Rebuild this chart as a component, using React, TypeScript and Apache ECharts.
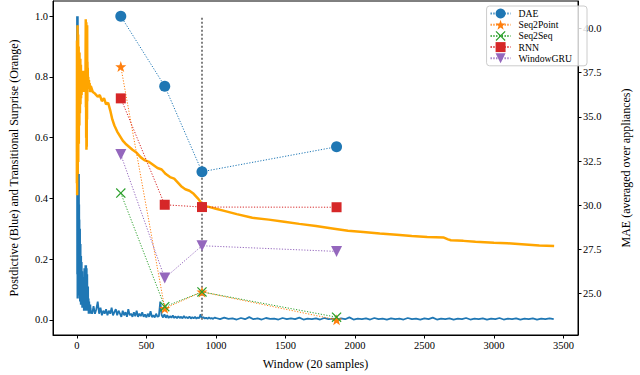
import React, { useEffect, useRef } from "react";
import * as echarts from "echarts";

// ---------- data ----------
const xTicks = [0, 500, 1000, 1500, 2000, 2500, 3000, 3500];
const leftTicks = [0, 0.2, 0.4, 0.6, 0.8, 1.0];
const rightTicks = [25, 27.5, 30, 32.5, 35, 37.5, 40];

const maeWindows = [316, 632, 900, 1868];
const maeDAE = [40.7, 36.74, 31.9, 33.31];
const maeSeq2Point = [37.85, 24.17, 25.1, 23.52];
const maeSeq2Seq = [30.69, 24.26, 25.1, 23.67];
const maeRNN = [36.05, 30.03, 29.9, 29.89];
const maeWindowGRU = [32.87, 25.88, 27.71, 27.39];

const markerWindow = 900;

// postdictive surprise (blue): windows 0..99 step 1
const blueEarly = [
  0.55, 1.0, 0.15, 0.98, 0.07, 0.85, 0.3, 1.0, 0.12, 0.49,
  0.08, 0.47, 0.1, 0.42, 0.09, 0.48, 0.13, 0.38, 0.07, 0.33,
  0.11, 0.29, 0.06, 0.3, 0.09, 0.22, 0.07, 0.25, 0.05, 0.18,
  0.08, 0.21, 0.06, 0.15, 0.05, 0.19, 0.07, 0.12, 0.04, 0.16,
  0.06, 0.11, 0.04, 0.14, 0.05, 0.09, 0.04, 0.13, 0.05, 0.08,
  0.03, 0.12, 0.05, 0.17, 0.04, 0.1, 0.03, 0.08, 0.05, 0.15,
  0.04, 0.18, 0.06, 0.09, 0.03, 0.14, 0.05, 0.18, 0.04, 0.12,
  0.06, 0.17, 0.03, 0.1, 0.05, 0.15, 0.04, 0.08, 0.03, 0.06,
  0.04, 0.11, 0.03, 0.05, 0.02, 0.07, 0.03, 0.05, 0.02, 0.06,
  0.03, 0.04, 0.02, 0.05, 0.03, 0.04, 0.02, 0.05, 0.03, 0.04,
];
// windows 100..990 step 10
const blueMid = [
  0.03, 0.02, 0.045, 0.02, 0.035, 0.06, 0.02, 0.04, 0.015, 0.03,
  0.02, 0.035, 0.015, 0.03, 0.02, 0.04, 0.015, 0.025, 0.035, 0.015,
  0.03, 0.02, 0.01, 0.03, 0.015, 0.025, 0.01, 0.035, 0.015, 0.02,
  0.01, 0.025, 0.012, 0.03, 0.01, 0.02, 0.012, 0.025, 0.01, 0.018,
  0.008, 0.02, 0.01, 0.028, 0.009, 0.015, 0.008, 0.02, 0.01, 0.012,
  0.06, 0.015, 0.008, 0.018, 0.007, 0.015, 0.006, 0.012, 0.007, 0.014,
  0.006, 0.011, 0.005, 0.012, 0.006, 0.01, 0.005, 0.013, 0.006, 0.009,
  0.005, 0.011, 0.004, 0.009, 0.005, 0.01, 0.004, 0.008, 0.005, 0.018,
  0.004, 0.009, 0.004, 0.007, 0.003, 0.008, 0.004, 0.006, 0.003, 0.007,
];
// windows 1000..3430 step 30
const blueLate = [
  0.006, 0.002, 0.007, 0.003, 0.005, 0.001, 0.006, 0.002, 0.009, 0.002,
  0.005, 0.001, 0.006, 0.003, 0.004, 0.001, 0.006, 0.002, 0.005, 0.002,
  0.007, 0.001, 0.004, 0.002, 0.005, 0.001, 0.006, 0.002, 0.004, 0.001,
  0.005, 0.002, 0.008, 0.001, 0.004, 0.002, 0.005, 0.001, 0.006, 0.002,
  0.004, 0.001, 0.005, 0.002, 0.004, 0.001, 0.006, 0.002, 0.004, 0.001,
  0.005, 0.002, 0.007, 0.001, 0.004, 0.002, 0.005, 0.001, 0.004, 0.002,
  0.006, 0.001, 0.004, 0.002, 0.005, 0.001, 0.004, 0.002, 0.006, 0.001,
  0.004, 0.002, 0.005, 0.001, 0.004, 0.002, 0.005, 0.001, 0.004, 0.002,
  0.005, 0.002,
];

// transitional surprise (orange): windows 0..99 step 1
const orangeEarly = [
  0.45, 0.92, 0.41, 0.88, 0.55, 0.97, 0.48, 0.85, 0.62, 0.94,
  0.52, 0.8, 0.66, 0.9, 0.58, 0.86, 0.7, 0.78, 0.64, 0.88,
  0.72, 0.83, 0.68, 0.8, 0.74, 0.86, 0.71, 0.79, 0.75, 0.84,
  0.73, 0.8, 0.77, 0.82, 0.74, 0.79, 0.76, 0.81, 0.78, 0.75,
  0.79, 0.77, 0.8, 0.76, 0.78, 0.82, 0.77, 0.79, 0.75, 0.78,
  0.8, 0.77, 0.79, 0.76, 0.78, 0.81, 0.77, 0.79, 0.76, 0.8,
  0.78, 0.82, 0.77, 0.9, 0.99, 0.7, 0.95, 0.6, 0.98, 0.56,
  0.93, 0.57, 0.88, 0.66, 0.97, 0.72, 0.85, 0.78, 0.83, 0.8,
  0.79, 0.78, 0.8, 0.77, 0.79, 0.78, 0.77, 0.79, 0.76, 0.78,
  0.77, 0.76, 0.78, 0.76, 0.77, 0.75, 0.77, 0.76, 0.75, 0.76,
];
const orangeLateX = [
  100, 115, 130, 150, 165, 180, 195, 210, 225, 240, 255, 270, 290, 310, 330,
  350, 375, 400, 430, 460, 490, 520, 550, 580, 610, 640, 670, 700, 720, 750,
  780, 810, 840, 870, 895, 910, 950, 1000, 1067, 1150, 1262, 1380, 1491, 1600,
  1720, 1850, 1950, 2060, 2179, 2300, 2409, 2520, 2640, 2670, 2690, 2780, 2867,
  3000, 3097, 3200, 3326, 3433,
];
const orangeLateY = [
  0.77, 0.75, 0.745, 0.735, 0.74, 0.72, 0.73, 0.71, 0.715, 0.69, 0.66, 0.64,
  0.62, 0.605, 0.59, 0.58, 0.57, 0.56, 0.55, 0.535, 0.525, 0.52, 0.51, 0.5,
  0.495, 0.48, 0.47, 0.465, 0.455, 0.44, 0.43, 0.425, 0.415, 0.4, 0.385, 0.375,
  0.372, 0.366, 0.358, 0.348, 0.336, 0.33, 0.323, 0.316, 0.309, 0.3, 0.293,
  0.289, 0.284, 0.28, 0.276, 0.273, 0.271, 0.265, 0.262, 0.26, 0.257, 0.254,
  0.252, 0.249, 0.245, 0.243,
];

// ---------- helpers ----------
const FONT = "'Liberation Serif', 'DejaVu Serif', serif";
const STAR =
  "path://M0,-10 L2.35,-3.24 L9.51,-3.09 L3.8,1.24 L5.88,8.09 L0,4 L-5.88,8.09 L-3.8,1.24 L-9.51,-3.09 L-2.35,-3.24 Z";
const CROSS =
  "path://M-10,-8.3 L-8.3,-10 L0,-1.7 L8.3,-10 L10,-8.3 L1.7,0 L10,8.3 L8.3,10 L0,1.7 L-8.3,10 L-10,8.3 L-1.7,0 Z";

const blueData: number[][] = [
  ...blueEarly.map((v, i) => [i, v]),
  ...blueMid.map((v, i) => [100 + 10 * i, v]),
  ...blueLate.map((v, i) => [1000 + 30 * i, v]),
];
const orangeData: number[][] = [
  ...orangeEarly.map((v, i) => [i, v]),
  ...orangeLateX.map((x, i) => [x, orangeLateY[i]]),
];

function maeSeries(
  name: string,
  values: number[],
  color: string,
  symbol: string,
  size: number,
  rotate = 0
) {
  return {
    name,
    type: "line",
    yAxisIndex: 1,
    data: maeWindows.map((w, i) => [w, values[i]]),
    symbol,
    symbolSize: size,
    symbolRotate: rotate,
    showSymbol: true,
    itemStyle: { color, borderWidth: 0 },
    lineStyle: { color, width: 1, type: [1.2, 1.6] },
    z: 5,
  };
}

export default function App() {
  const ref = useRef<HTMLDivElement>(null);
  useEffect(() => {
    if (!ref.current) return;
    const chart = echarts.init(ref.current, undefined, { renderer: "svg" });
    const axisCommon = {
      axisLine: { show: true, onZero: false, lineStyle: { color: "#000", width: 1 } },
      splitLine: { show: false },
      nameTextStyle: { fontSize: 12, color: "#000", fontFamily: FONT },
    };
    chart.setOption({
      animation: false,
      textStyle: { fontFamily: FONT },
      grid: {
        left: 42,
        right: 48,
        top: 1,
        bottom: 36,
        show: true,
        borderColor: "#000",
        borderWidth: 1,
        backgroundColor: "transparent",
      },
      legend: {
        orient: "vertical",
        right: 53,
        top: 6,
        data: ["DAE", "Seq2Point", "Seq2Seq", "RNN", "WindowGRU"],
        itemWidth: 20,
        itemHeight: 12.5,
        itemGap: 1.2,
        padding: [2.5, 15, 2.5, 3],
        backgroundColor: "rgba(255,255,255,0.8)",
        borderColor: "#cccccc",
        borderWidth: 1,
        borderRadius: 3,
        textStyle: { fontSize: 9.7, color: "#000", fontFamily: FONT, padding: [0, 0, 0, 3] },
      },
      xAxis: {
        type: "value",
        min: -171.65,
        max: 3604.65,
        name: "Window (20 samples)",
        nameLocation: "middle",
        nameGap: 23,
        ...axisCommon,
        axisTick: { show: true, length: 3.5, lineStyle: { color: "#000" }, customValues: xTicks },
        axisLabel: {
          customValues: xTicks,
          fontSize: 10.5,
          color: "#000",
          margin: 5,
          fontFamily: FONT,
          formatter: (v: number) => String(Math.round(v)),
        },
      },
      yAxis: [
        {
          type: "value",
          position: "left",
          min: -0.05,
          max: 1.05,
          name: "Postdictive (Blue) and Transitional Surprise (Orange)",
          nameLocation: "middle",
          nameRotate: 90,
          nameGap: 33,
          ...axisCommon,
          axisTick: { show: true, length: 3.5, lineStyle: { color: "#000" }, customValues: leftTicks },
          axisLabel: {
            customValues: leftTicks,
            fontSize: 10.5,
            color: "#000",
            margin: 5,
            fontFamily: FONT,
            formatter: (v: number) => v.toFixed(1),
          },
        },
        {
          type: "value",
          position: "right",
          min: 22.66,
          max: 41.56,
          name: "MAE (averaged over appliances)",
          nameLocation: "middle",
          nameRotate: 90,
          nameGap: 42,
          ...axisCommon,
          axisTick: { show: true, length: 3.5, lineStyle: { color: "#000" }, customValues: rightTicks },
          axisLabel: {
            customValues: rightTicks,
            fontSize: 10.5,
            color: "#000",
            margin: 5,
            fontFamily: FONT,
            formatter: (v: number) => v.toFixed(1),
          },
        },
      ],
      series: [
        {
          name: "Postdictive",
          type: "line",
          yAxisIndex: 0,
          data: blueData,
          showSymbol: false,
          symbol: "none",
          lineStyle: { color: "#1f77b4", width: 1.8 },
          z: 2,
        },
        {
          name: "Transitional",
          type: "line",
          yAxisIndex: 0,
          data: orangeData,
          showSymbol: false,
          symbol: "none",
          lineStyle: { color: "#ffa500", width: 2.5 },
          z: 3,
        },
        {
          name: "marker",
          type: "line",
          yAxisIndex: 0,
          data: [
            [markerWindow, 0],
            [markerWindow, 1],
          ],
          symbol: "none",
          lineStyle: { color: "#808080", width: 2, type: [2, 2] },
          z: 4,
        },
        maeSeries("DAE", maeDAE, "#1f77b4", "circle", 11),
        maeSeries("Seq2Point", maeSeq2Point, "#ff7f0e", STAR, 11),
        maeSeries("Seq2Seq", maeSeq2Seq, "#2ca02c", CROSS, 10),
        maeSeries("RNN", maeRNN, "#d62728", "rect", 10),
        maeSeries("WindowGRU", maeWindowGRU, "#9467bd", "triangle", 11, 180),
      ],
    });
    return () => chart.dispose();
  }, []);
  return (
    <div
      ref={ref}
      style={{ position: "fixed", left: 0, top: 0, width: 640, height: 375, background: "#fff" }}
    />
  );
}
